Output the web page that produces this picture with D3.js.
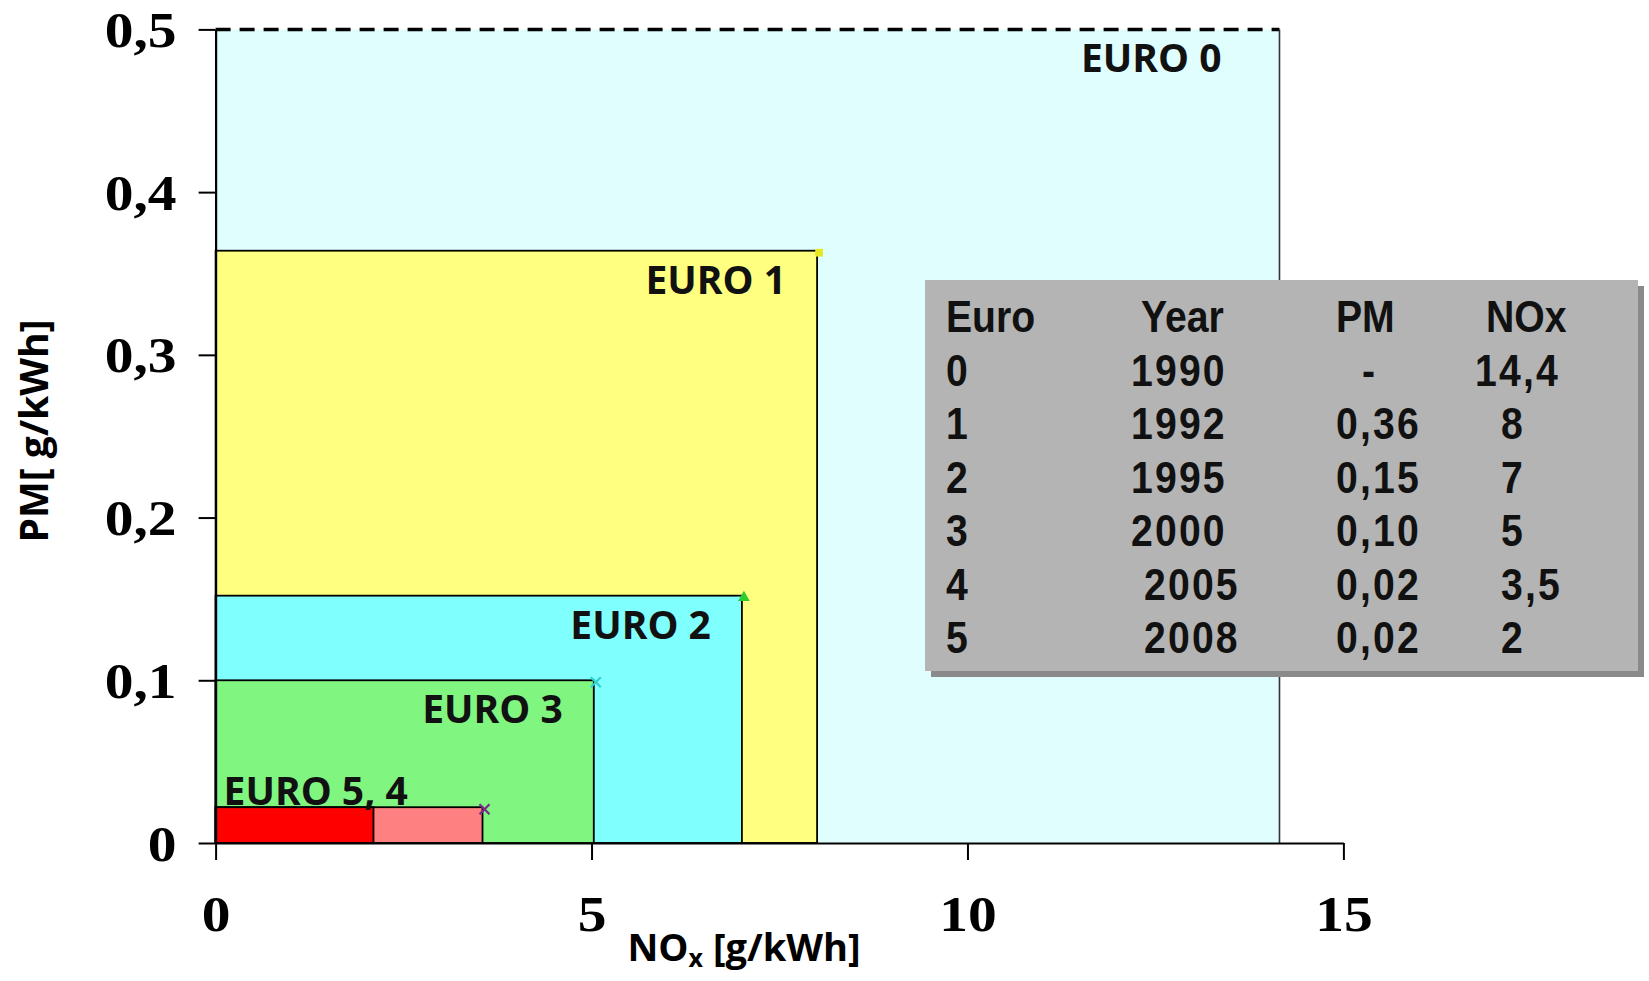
<!DOCTYPE html>
<html>
<head>
<meta charset="utf-8">
<script src="https://cdn.jsdelivr.net/npm/d3@7"></script>
<style>
  body { margin: 0; background: #fff; }
  svg { display: block; }
</style>
</head>
<body>
<div id="chart"></div>
<script>
// limit values
var euroNames = ["EURO 0", "EURO 1", "EURO 2", "EURO 3", "EURO 4", "EURO 5"];
var noxLimit = [14.15, 8, 7, 5.03, 3.55, 2.1];
var pmLimit = [0.5, 0.364, 0.152, 0.1, 0.022, 0.022];

var xTicks = [0, 5, 10, 15];
var yTicks = [0, 0.1, 0.2, 0.3, 0.4, 0.5];

// the grey table
var tableHeader = ["Euro", "Year", "PM", "NOx"];
var tableEuro = ["0", "1", "2", "3", "4", "5"];
var tableYear = ["1990", "1992", "1995", "2000", "\u00a02005", "\u00a02008"];
var tablePM = ["\u00a0\u00a0-", "0,36", "0,15", "0,10", "0,02", "0,02"];
var tableNOx = ["14,4", "\u00a0\u00a08", "\u00a0\u00a07", "\u00a0\u00a05", "\u00a0\u00a03,5", "\u00a0\u00a02"];

var W = 1649, H = 981;
var fills = ["#e0fefe", "#ffff80", "#80ffff", "#80f580", "#ff8080", "#ff0000"];
var serif = "'Liberation Serif', 'Times New Roman', serif";
var sans = "'Open Sans', 'Noto Sans', sans-serif";
var narrow = "'Liberation Sans', Arial, sans-serif";

var svg = d3.select("#chart").append("svg")
    .attr("width", W)
    .attr("height", H);

var x = d3.scaleLinear().domain([0, 15]).range([215.6, 1343.4]);
var y = d3.scaleLinear().domain([0, 0.5]).range([843, 29.4]);

// boxes, biggest first
var boxes = euroNames.map(function (n, i) { return { name: n, nox: noxLimit[i], pm: pmLimit[i], i: i }; });

svg.selectAll(".box")
    .data(boxes)
    .enter().append("rect")
    .attr("class", "box")
    .attr("x", x(0))
    .attr("y", function (d) { return y(d.pm); })
    .attr("width", function (d) { return x(d.nox) - x(0); })
    .attr("height", function (d) { return y(0) - y(d.pm); })
    .style("fill", function (d) { return fills[d.i]; })
    .style("stroke", function (d) { return d.i == 0 ? "none" : "#000"; })
    .style("stroke-width", 1.8);

// euro 0: dashed top + thin right edge
svg.append("line")
    .attr("x1", x(0)).attr("x2", x(noxLimit[0]))
    .attr("y1", y(pmLimit[0])).attr("y2", y(pmLimit[0]))
    .style("stroke", "#000").style("stroke-width", 3.5)
    .style("stroke-dasharray", "15,9");
svg.append("line")
    .attr("x1", x(noxLimit[0])).attr("x2", x(noxLimit[0]))
    .attr("y1", y(pmLimit[0])).attr("y2", y(0))
    .style("stroke", "#333").style("stroke-width", 1.6);

// little series markers at the corners
var markers = [
    { i: 1, type: d3.symbolSquare, color: "#e8e820" },
    { i: 2, type: d3.symbolTriangle, color: "#2ecc2e" },
    { i: 3, type: "x", color: "#30d0d0" },
    { i: 4, type: "x", color: "#7a2a8a" }
];
svg.selectAll(".mk")
    .data(markers)
    .enter().append("path")
    .attr("class", "mk")
    .attr("transform", function (d) {
        return "translate(" + (x(noxLimit[d.i]) + 2) + "," + (y(pmLimit[d.i]) + 2) + ")";
    })
    .style("fill", function (d) { return d.type == "x" ? "none" : d.color; })
    .style("stroke", function (d) { return d.type == "x" ? d.color : "none"; })
    .style("stroke-width", 2.2)
    .attr("d", function (d) {
        if (d.type == "x") return "M-5,-5L5,5M-5,5L5,-5";
        return d3.symbol().type(d.type).size(60)();
    });

// axes
var fmt = function (d) { return String(d).replace(".", ","); };

var xAxis = svg.append("g")
    .attr("transform", "translate(0," + y(0) + ")")
    .call(d3.axisBottom(x).tickValues(xTicks).tickSize(17).tickSizeOuter(0).tickPadding(36).tickFormat(fmt));

var yAxis = svg.append("g")
    .attr("transform", "translate(" + x(0) + ",0)")
    .call(d3.axisLeft(y).tickValues(yTicks).tickSize(17).tickSizeOuter(0).tickPadding(17).tickFormat(fmt));

[xAxis, yAxis].forEach(function (g) {
    g.select(".domain").style("stroke", "#000").style("stroke-width", 2.2);
    g.selectAll(".tick line").style("stroke", "#000").style("stroke-width", 2);
    g.selectAll(".tick text")
        .attr("transform", "scale(1.15,1)")
        .style("font-family", serif)
        .style("font-weight", "bold")
        .style("font-size", "50px")
        .style("fill", "#000");
});
yAxis.selectAll(".tick text").attr("dy", "0.34em");

// box labels
var lab = svg.append("g")
    .style("font-family", sans)
    .style("font-weight", "bold")
    .style("font-size", "39px")
    .style("fill", "#111");

[0, 1, 2, 3].forEach(function (i) {
    var off = i == 0 ? 58 : 31;
    lab.append("text")
        .attr("x", x(noxLimit[i]) - off)
        .attr("y", y(pmLimit[i]) + 29)
        .attr("dy", "0.36em")
        .attr("text-anchor", "end")
        .text(euroNames[i]);
});
lab.append("text")
    .attr("x", x(0) + 8)
    .attr("y", y(pmLimit[4]) - 16)
    .attr("dy", "0.36em")
    .text("EURO 5, 4");

// axis titles
svg.append("text")
    .attr("transform", "translate(34,431) rotate(-90)")
    .attr("text-anchor", "middle")
    .attr("dy", "0.36em")
    .style("font-family", sans)
    .style("font-weight", "bold")
    .style("font-size", "39px")
    .text("PM[ g/kWh]");

var xt = svg.append("text")
    .attr("x", 744)
    .attr("y", 961)
    .attr("text-anchor", "middle")
    .style("font-family", sans)
    .style("font-weight", "bold")
    .style("font-size", "38px");
xt.append("tspan").text("NO");
xt.append("tspan").attr("dy", 6).style("font-size", "25px").text("x");
xt.append("tspan").attr("dy", -6).text(" [g/kWh]");

// table
var tb = { x: 925, y: 280, w: 713, h: 391 };
svg.append("rect")
    .attr("x", tb.x + 6).attr("y", tb.y + 6)
    .attr("width", tb.w).attr("height", tb.h)
    .style("fill", "#8a8a8a");
svg.append("rect")
    .attr("x", tb.x).attr("y", tb.y)
    .attr("width", tb.w).attr("height", tb.h)
    .style("fill", "#b4b4b4");

var colX = [946, 1131, 1336, 1475];
var headX = [946, 1141, 1336, 1486];
var rowY = d3.scaleLinear().domain([0, 6]).range([316, 637]);
var tg = svg.append("g")
    .style("font-family", narrow)
    .style("font-weight", "bold")
    .style("font-size", "45px")
    .style("fill", "#111");

function cell(t, cx, cy, ls) {
    tg.append("text")
        .attr("transform", "translate(" + cx + "," + cy + ") scale(0.87,1)")
        .attr("dy", "0.36em")
        .style("letter-spacing", ls + "px")
        .text(t);
}
tableHeader.forEach(function (t, c) { cell(t, headX[c], rowY(0), 0); });
[tableEuro, tableYear, tablePM, tableNOx].forEach(function (col, c) {
    col.forEach(function (t, r) { cell(t, colX[c], rowY(r + 1), 2.5); });
});
</script>
</body>
</html>
